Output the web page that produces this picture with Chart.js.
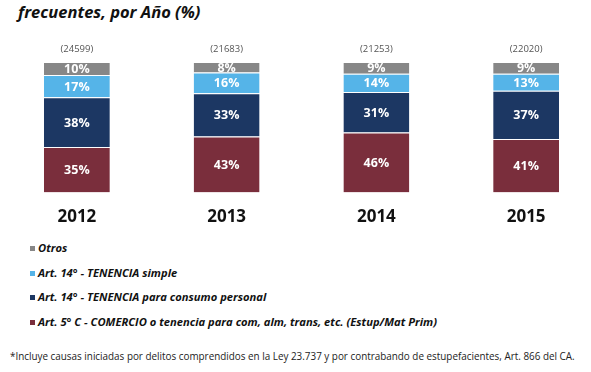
<!DOCTYPE html>
<html>
<head>
<meta charset="utf-8">
<script src="https://cdn.jsdelivr.net/npm/chart.js@4.4.1/dist/chart.umd.min.js"></script>
<style>
  html, body { margin: 0; padding: 0; background: #fff; overflow: hidden; }
  body { width: 591px; height: 372px; position: relative; font-family: "Open Sans", sans-serif; }
  #title { position: absolute; left: 18px; top: 0px; font: italic bold 16.5px "Open Sans", sans-serif; color: #111; }
  #wrap { position: absolute; left: 0; top: 0; width: 601px; height: 233px; }
  #legend { position: absolute; left: 30px; top: 240px; }
  .item { height: 24.5px; font: italic bold 11.2px "Open Sans", sans-serif; color: #111; white-space: nowrap; }
  .item span { display: inline-block; width: 5px; height: 5px; margin-right: 3px; vertical-align: 1px; }
  #note { position: absolute; left: 10px; top: 349px; font: 9.9px "Open Sans", sans-serif; color: #222; white-space: nowrap; }
</style>
</head>
<body>
<div id="title">frecuentes, por Año (%)</div>
<div id="wrap"><canvas id="chart"></canvas></div>
<div id="legend"></div>
<div id="note">*Incluye causas iniciadas por delitos comprendidos en la Ley 23.737 y por contrabando de estupefacientes, Art. 866 del CA.</div>
<script>
const years = ['2012', '2013', '2014', '2015'];
const totals = ['(24599)', '(21683)', '(21253)', '(22020)'];
const seriesNames = [
    'Art. 5° C - COMERCIO o tenencia para com, alm, trans, etc. (Estup/Mat Prim)',
    'Art. 14° - TENENCIA para consumo personal',
    'Art. 14° - TENENCIA simple',
    'Otros'
];
const comercio = [35, 43, 46, 41];
const consumo = [38, 33, 31, 37];
const simple = [17, 16, 14, 13];
const otros = [10, 8, 9, 9];
const colors = ['#7a2e3c', '#1c3763', '#55b4e8', '#878787'];

const valueLabels = {
    id: 'valueLabels',
    afterDatasetsDraw(chart) {
        const ctx = chart.ctx;
        ctx.save();
        ctx.textAlign = 'center';
        ctx.textBaseline = 'middle';
        ctx.fillStyle = '#fff';
        ctx.font = 'bold 12.5px "Open Sans", sans-serif';
        chart.data.datasets.forEach((ds, i) => {
            chart.getDatasetMeta(i).data.forEach((bar, j) => {
                ctx.fillText(ds.data[j] + '%', bar.x, (bar.y + bar.base) / 2 + 1);
            });
        });
        const top = chart.getDatasetMeta(chart.data.datasets.length - 1).data;
        ctx.fillStyle = '#555';
        ctx.font = '9.5px "Open Sans", sans-serif';
        top.forEach((bar, j) => {
            ctx.fillText(totals[j], bar.x, bar.y - 13);
        });
        ctx.restore();
    }
};

const ctx = document.getElementById('chart');
ctx.chartInstance = new Chart(ctx, {
    type: 'bar',
    data: {
        labels: years,
        datasets: [comercio, consumo, simple, otros].map((d, i) => ({
            label: seriesNames[i],
            data: d,
            backgroundColor: colors[i],
            borderColor: '#fff',
            borderWidth: { top: 1 },
            borderSkipped: false,
            barPercentage: 0.44,
            categoryPercentage: 1
        }))
    },
    options: {
        responsive: true,
        maintainAspectRatio: false,
        animation: false,
        layout: { padding: { left: 2, right: 0, top: 62, bottom: 0 } },
        scales: {
            x: {
                stacked: true,
                grid: { display: false },
                border: { display: false },
                ticks: {
                    color: '#111',
                    padding: 6,
                    font: { family: 'Open Sans', size: 17, weight: 'bold' }
                }
            },
            y: {
                stacked: true,
                display: false,
                min: 0,
                max: 100
            }
        },
        plugins: {
            legend: { display: false },
            tooltip: { enabled: false }
        }
    },
    plugins: [valueLabels]
});

const legend = document.getElementById('legend');
for (let i = seriesNames.length - 1; i >= 0; i--) {
    const row = document.createElement('div');
    row.className = 'item';
    row.innerHTML = '<span style="background:' + colors[i] + '"></span>' + seriesNames[i];
    legend.appendChild(row);
}
</script>
</body>
</html>
